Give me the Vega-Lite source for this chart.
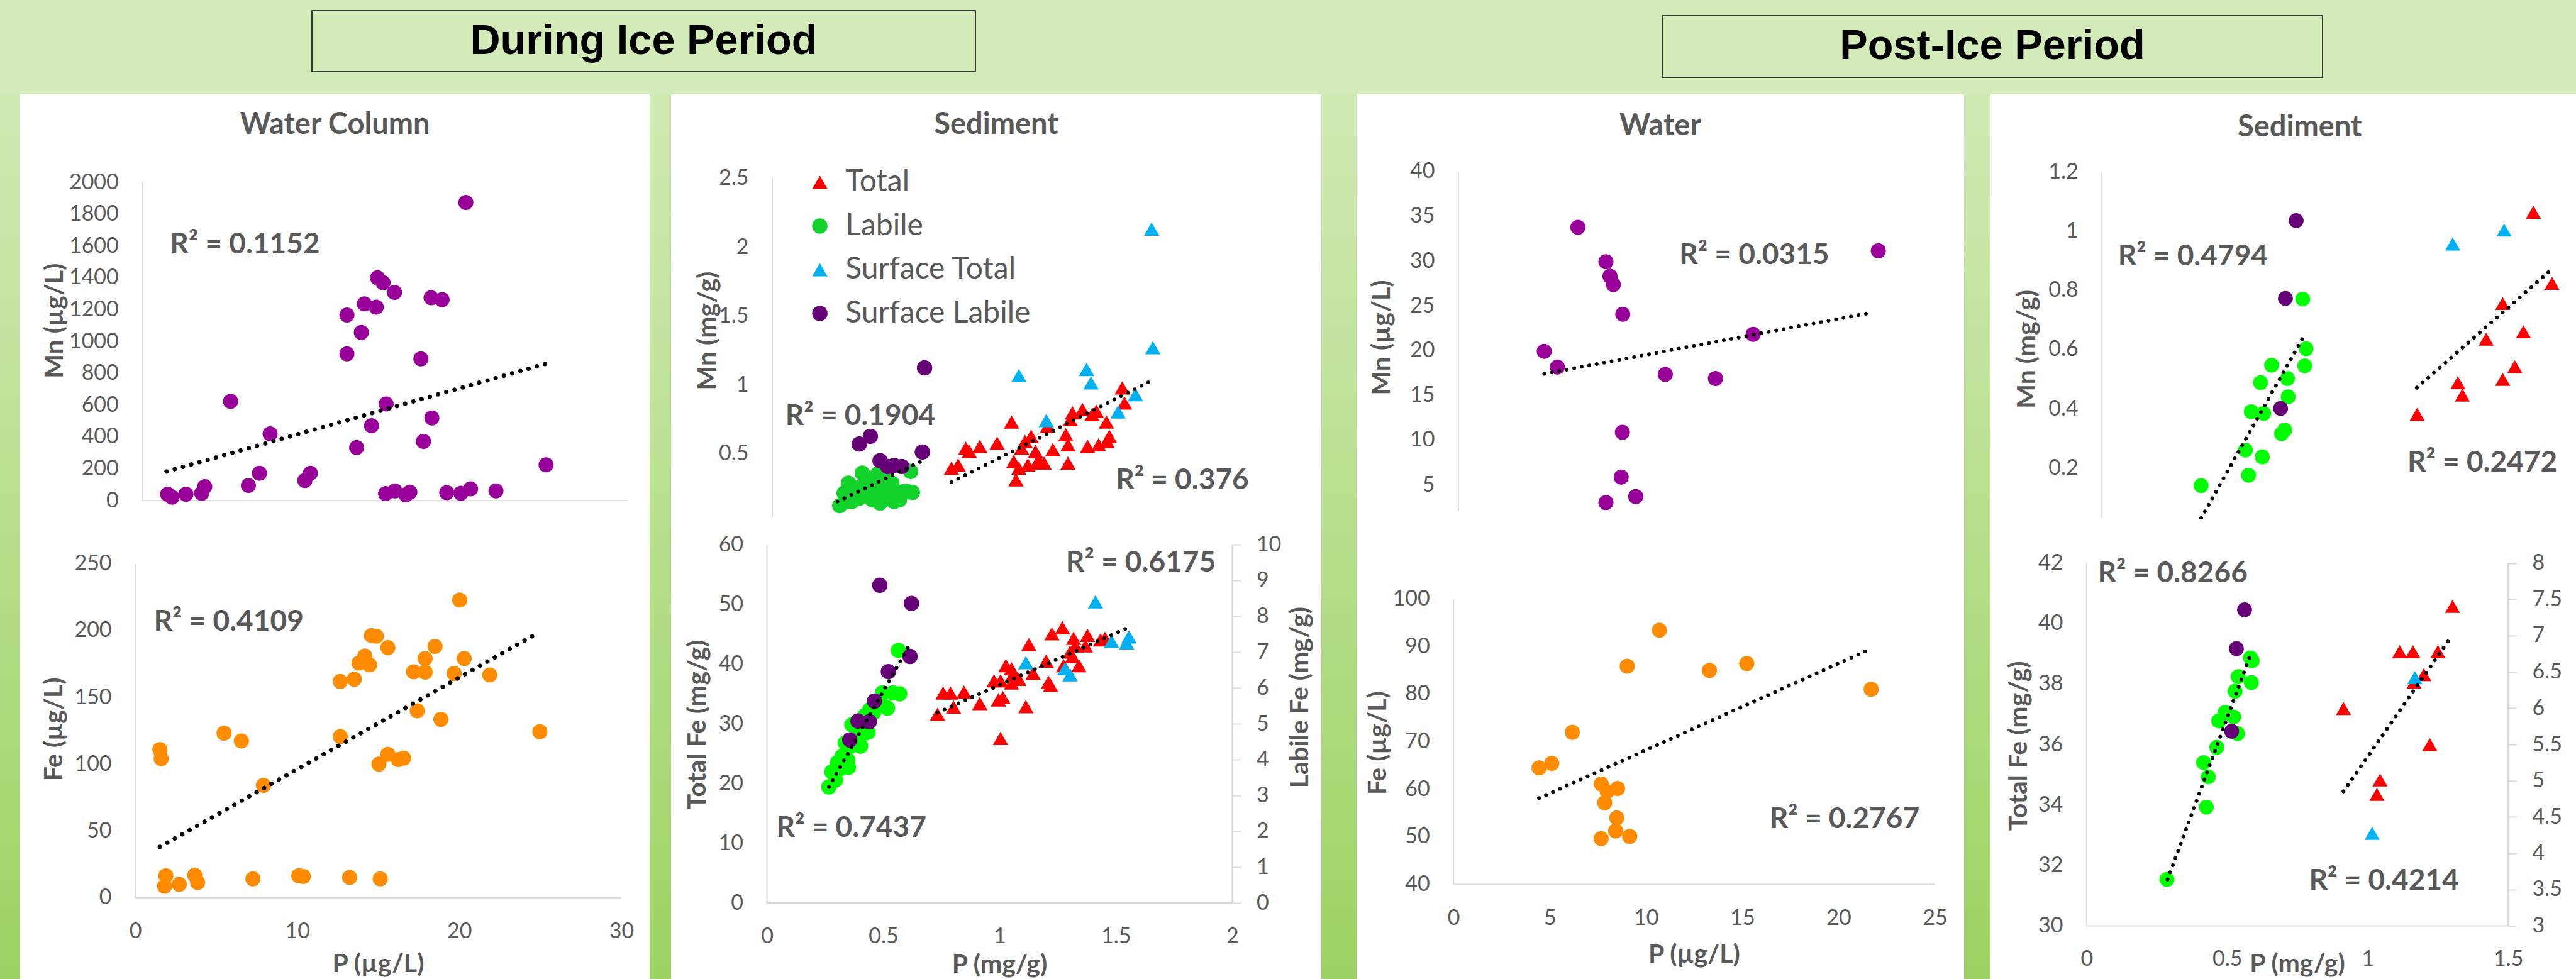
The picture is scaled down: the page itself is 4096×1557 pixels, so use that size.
{
"$schema":"https://vega.github.io/schema/vega-lite/v6.json",
"background":"#d3ebb9",
"padding":0,
"spacing":0,
"config":{"view":{"stroke":null},"concat":{"spacing":0},"axis":{"labelExpr":"toString(datum.value)","grid":false,"domain":false,"labelFont":"Lato","labelFontSize":34,"labelColor":"#595959","labelOverlap":false,"labelFlush":false,"title":null}},
"resolve":{"scale":{"color":"independent","shape":"independent"},"legend":{"color":"independent","shape":"independent"}},
"datasets":{
"c1mn":[{"P":1.57,"Mn":40},{"P":1.84,"Mn":21},{"P":2.7,"Mn":40},{"P":3.67,"Mn":46},{"P":3.86,"Mn":88},{"P":5.46,"Mn":624},{"P":6.56,"Mn":95},{"P":7.24,"Mn":172},{"P":7.9,"Mn":420},{"P":10.05,"Mn":126},{"P":10.39,"Mn":172},{"P":12.65,"Mn":922},{"P":12.65,"Mn":1166},{"P":13.25,"Mn":334},{"P":13.54,"Mn":1057},{"P":13.73,"Mn":1237},{"P":14.17,"Mn":471},{"P":14.46,"Mn":1216},{"P":14.54,"Mn":1401},{"P":14.88,"Mn":1370},{"P":15.07,"Mn":607},{"P":15.04,"Mn":44},{"P":15.59,"Mn":1309},{"P":15.62,"Mn":61},{"P":16.3,"Mn":36},{"P":16.54,"Mn":53},{"P":17.22,"Mn":891},{"P":17.38,"Mn":372},{"P":17.85,"Mn":1275},{"P":17.9,"Mn":519},{"P":18.53,"Mn":1263},{"P":18.82,"Mn":50},{"P":19.69,"Mn":46},{"P":20.0,"Mn":1874},{"P":20.29,"Mn":74},{"P":21.86,"Mn":61},{"P":24.96,"Mn":225}],
"c1mnT":[{"P":1.5,"Mn":183},{"P":24.99,"Mn":861}],
"c1fe":[{"P":1.52,"Fe":110.9},{"P":1.6,"Fe":104.1},{"P":1.89,"Fe":16.4},{"P":1.81,"Fe":8.6},{"P":2.72,"Fe":10.0},{"P":3.67,"Fe":16.8},{"P":3.85,"Fe":11.4},{"P":5.48,"Fe":123.2},{"P":6.55,"Fe":117.3},{"P":7.26,"Fe":14.1},{"P":7.91,"Fe":84.1},{"P":10.09,"Fe":16.4},{"P":10.37,"Fe":15.9},{"P":12.65,"Fe":162.0},{"P":12.65,"Fe":120.7},{"P":13.23,"Fe":15.2},{"P":13.52,"Fe":163.6},{"P":13.81,"Fe":175.7},{"P":14.17,"Fe":181.1},{"P":14.46,"Fe":174.3},{"P":14.57,"Fe":196.4},{"P":14.88,"Fe":195.9},{"P":15.04,"Fe":100.0},{"P":15.12,"Fe":14.1},{"P":15.59,"Fe":187.3},{"P":15.59,"Fe":107.3},{"P":16.24,"Fe":103.4},{"P":16.56,"Fe":104.5},{"P":17.18,"Fe":169.1},{"P":17.4,"Fe":140.0},{"P":17.89,"Fe":168.9},{"P":17.89,"Fe":179.1},{"P":18.5,"Fe":188.2},{"P":18.86,"Fe":133.6},{"P":19.68,"Fe":168.0},{"P":20.02,"Fe":223.0},{"P":20.3,"Fe":179.1},{"P":21.88,"Fe":166.8},{"P":24.97,"Fe":124.3}],
"c1feT":[{"P":1.52,"Fe":38.0},{"P":24.94,"Fe":198.9}],
"c2mn":[{"series":"Total","P":0.733,"Mn":0.396},{"series":"Total","P":0.76,"Mn":0.42},{"series":"Total","P":0.792,"Mn":0.542},{"series":"Total","P":0.806,"Mn":0.518},{"series":"Total","P":0.849,"Mn":0.554},{"series":"Total","P":0.92,"Mn":0.578},{"series":"Total","P":0.979,"Mn":0.731},{"series":"Total","P":0.997,"Mn":0.311},{"series":"Total","P":0.988,"Mn":0.445},{"series":"Total","P":1.009,"Mn":0.396},{"series":"Total","P":1.02,"Mn":0.542},{"series":"Total","P":1.034,"Mn":0.591},{"series":"Total","P":1.046,"Mn":0.42},{"series":"Total","P":1.059,"Mn":0.627},{"series":"Total","P":1.077,"Mn":0.518},{"series":"Total","P":1.085,"Mn":0.445},{"series":"Total","P":1.098,"Mn":0.433},{"series":"Total","P":1.112,"Mn":0.433},{"series":"Total","P":1.126,"Mn":0.7},{"series":"Total","P":1.148,"Mn":0.53},{"series":"Total","P":1.201,"Mn":0.639},{"series":"Total","P":1.21,"Mn":0.566},{"series":"Total","P":1.21,"Mn":0.433},{"series":"Total","P":1.219,"Mn":0.748},{"series":"Total","P":1.228,"Mn":0.797},{"series":"Total","P":1.269,"Mn":0.821},{"series":"Total","P":1.29,"Mn":0.554},{"series":"Total","P":1.308,"Mn":0.785},{"series":"Total","P":1.326,"Mn":0.809},{"series":"Total","P":1.335,"Mn":0.566},{"series":"Total","P":1.367,"Mn":0.731},{"series":"Total","P":1.379,"Mn":0.627},{"series":"Total","P":1.37,"Mn":0.59},{"series":"Total","P":1.432,"Mn":0.979},{"series":"Total","P":1.441,"Mn":0.869},
{"series":"Labile","P":0.276,"Mn":0.124},{"series":"Labile","P":0.294,"Mn":0.214},{"series":"Labile","P":0.312,"Mn":0.287},{"series":"Labile","P":0.326,"Mn":0.154},{"series":"Labile","P":0.347,"Mn":0.251},{"series":"Labile","P":0.368,"Mn":0.36},{"series":"Labile","P":0.383,"Mn":0.202},{"series":"Labile","P":0.401,"Mn":0.299},{"series":"Labile","P":0.418,"Mn":0.226},{"series":"Labile","P":0.431,"Mn":0.353},{"series":"Labile","P":0.441,"Mn":0.142},{"series":"Labile","P":0.454,"Mn":0.263},{"series":"Labile","P":0.472,"Mn":0.202},{"series":"Labile","P":0.489,"Mn":0.287},{"series":"Labile","P":0.498,"Mn":0.154},{"series":"Labile","P":0.52,"Mn":0.166},{"series":"Labile","P":0.539,"Mn":0.226},{"series":"Labile","P":0.552,"Mn":0.226},{"series":"Labile","P":0.566,"Mn":0.372},{"series":"Labile","P":0.573,"Mn":0.22},{"series":"Labile","P":0.329,"Mn":0.202},{"series":"Labile","P":0.303,"Mn":0.154},{"series":"Labile","P":0.374,"Mn":0.263},{"series":"Labile","P":0.409,"Mn":0.166},{"series":"Labile","P":0.463,"Mn":0.323},{"series":"Labile","P":0.507,"Mn":0.226},{"series":"Labile","P":0.356,"Mn":0.178},{"series":"Labile","P":0.427,"Mn":0.287},
{"series":"Surface Total","P":1.552,"Mn":2.131},{"series":"Surface Total","P":1.557,"Mn":1.27},{"series":"Surface Total","P":1.009,"Mn":1.068},{"series":"Surface Total","P":1.286,"Mn":1.112},{"series":"Surface Total","P":1.304,"Mn":1.015},{"series":"Surface Total","P":1.121,"Mn":0.741},{"series":"Surface Total","P":1.415,"Mn":0.804},{"series":"Surface Total","P":1.486,"Mn":0.93},
{"series":"Surface Labile","P":0.623,"Mn":1.124},{"series":"Surface Labile","P":0.356,"Mn":0.571},{"series":"Surface Labile","P":0.401,"Mn":0.627},{"series":"Surface Labile","P":0.441,"Mn":0.45},{"series":"Surface Labile","P":0.472,"Mn":0.408},{"series":"Surface Labile","P":0.498,"Mn":0.416},{"series":"Surface Labile","P":0.53,"Mn":0.408},{"series":"Surface Labile","P":0.614,"Mn":0.513}],
"c2mnT":[{"line":"Labile","P":0.267,"Mn":0.154},{"line":"Labile","P":0.623,"Mn":0.457},{"line":"Total","P":0.733,"Mn":0.294},{"line":"Total","P":1.548,"Mn":1.027}],
"c2fe":[{"series":"Total","P":0.733,"Fe":31.63},{"series":"Total","P":0.757,"Fe":35.18},{"series":"Total","P":0.789,"Fe":35.18},{"series":"Total","P":0.802,"Fe":32.8},{"series":"Total","P":0.847,"Fe":35.33},{"series":"Total","P":0.915,"Fe":33.4},{"series":"Total","P":0.976,"Fe":37.21},{"series":"Total","P":1.004,"Fe":37.21},{"series":"Total","P":0.995,"Fe":34.01},{"series":"Total","P":1.014,"Fe":34.42},{"series":"Total","P":1.004,"Fe":27.56},{"series":"Total","P":1.027,"Fe":39.75},{"series":"Total","P":1.06,"Fe":38.49},{"series":"Total","P":1.051,"Fe":36.86},{"series":"Total","P":1.083,"Fe":37.47},{"series":"Total","P":1.113,"Fe":32.89},{"series":"Total","P":1.126,"Fe":43.31},{"series":"Total","P":1.144,"Fe":38.49},{"series":"Total","P":1.2,"Fe":40.52},{"series":"Total","P":1.21,"Fe":36.96},{"series":"Total","P":1.219,"Fe":36.45},{"series":"Total","P":1.225,"Fe":45.09},{"series":"Total","P":1.27,"Fe":46.1},{"series":"Total","P":1.275,"Fe":39.75},{"series":"Total","P":1.303,"Fe":42.05},{"series":"Total","P":1.318,"Fe":44.33},{"series":"Total","P":1.326,"Fe":43.06},{"series":"Total","P":1.341,"Fe":39.75},{"series":"Total","P":1.378,"Fe":44.84},{"series":"Total","P":1.369,"Fe":43.06},{"series":"Total","P":1.434,"Fe":44.07},{"series":"Total","P":1.313,"Fe":41.28},{"series":"Total","P":1.051,"Fe":39.24},{"series":"Total","P":1.453,"Fe":44.33},
{"series":"Surface Total","P":1.113,"Fe":40.26},{"series":"Surface Total","P":1.281,"Fe":39.24},{"series":"Surface Total","P":1.303,"Fe":38.23},{"series":"Surface Total","P":1.412,"Fe":50.43},{"series":"Surface Total","P":1.481,"Fe":43.82},{"series":"Surface Total","P":1.556,"Fe":44.58},{"series":"Surface Total","P":1.546,"Fe":43.57},
{"series":"Labile","P":0.266,"Fe":3.239},{"series":"Labile","P":0.294,"Fe":3.433},{"series":"Labile","P":0.279,"Fe":3.662},{"series":"Labile","P":0.313,"Fe":3.747},{"series":"Labile","P":0.328,"Fe":3.873},{"series":"Labile","P":0.322,"Fe":4.085},{"series":"Labile","P":0.346,"Fe":4.0},{"series":"Labile","P":0.337,"Fe":4.466},{"series":"Labile","P":0.359,"Fe":4.381},{"series":"Labile","P":0.378,"Fe":4.551},{"series":"Labile","P":0.365,"Fe":4.974},{"series":"Labile","P":0.387,"Fe":5.059},{"series":"Labile","P":0.402,"Fe":4.381},{"series":"Labile","P":0.41,"Fe":4.72},{"series":"Labile","P":0.425,"Fe":4.89},{"series":"Labile","P":0.421,"Fe":5.228},{"series":"Labile","P":0.44,"Fe":5.059},{"series":"Labile","P":0.443,"Fe":5.398},{"series":"Labile","P":0.458,"Fe":5.313},{"series":"Labile","P":0.471,"Fe":5.482},{"series":"Labile","P":0.49,"Fe":5.567},{"series":"Labile","P":0.496,"Fe":5.864},{"series":"Labile","P":0.518,"Fe":5.441},{"series":"Labile","P":0.541,"Fe":5.864},{"series":"Labile","P":0.57,"Fe":5.837},{"series":"Labile","P":0.565,"Fe":7.05},{"series":"Labile","P":0.303,"Fe":3.915},{"series":"Labile","P":0.35,"Fe":3.789},{"series":"Labile","P":0.397,"Fe":4.848},{"series":"Labile","P":0.434,"Fe":4.763},
{"series":"Surface Labile","P":0.485,"Fe":8.87},{"series":"Surface Labile","P":0.621,"Fe":8.362},{"series":"Surface Labile","P":0.615,"Fe":6.88},{"series":"Surface Labile","P":0.522,"Fe":6.457},{"series":"Surface Labile","P":0.462,"Fe":5.635},{"series":"Surface Labile","P":0.391,"Fe":5.076},{"series":"Surface Labile","P":0.44,"Fe":5.059},{"series":"Surface Labile","P":0.356,"Fe":4.551}],
"c2feT":[{"line":"Total","P":0.733,"Fe":31.88},{"line":"Total","P":1.543,"Fe":45.95},{"line":"Labile","P":0.266,"Fe":3.239},{"line":"Labile","P":0.612,"Fe":7.193}],
"c3mn":[{"P":6.18,"Mn":33.77},{"P":7.63,"Mn":29.92},{"P":7.84,"Mn":28.31},{"P":8.01,"Mn":27.38},{"P":8.5,"Mn":24.05},{"P":4.44,"Mn":19.91},{"P":5.12,"Mn":18.15},{"P":10.7,"Mn":17.33},{"P":13.29,"Mn":16.88},{"P":15.24,"Mn":21.81},{"P":21.71,"Mn":31.15},{"P":8.48,"Mn":10.87},{"P":8.42,"Mn":5.86},{"P":9.17,"Mn":3.69},{"P":7.63,"Mn":3.02}],
"c3mnT":[{"P":4.44,"Mn":17.4},{"P":21.38,"Mn":24.24}],
"c3fe":[{"P":10.69,"Fe":93.43},{"P":9.02,"Fe":85.84},{"P":13.29,"Fe":84.95},{"P":15.23,"Fe":86.42},{"P":21.69,"Fe":81.0},{"P":6.17,"Fe":71.94},{"P":4.44,"Fe":64.48},{"P":5.1,"Fe":65.44},{"P":7.67,"Fe":61.1},{"P":7.98,"Fe":59.51},{"P":8.52,"Fe":60.15},{"P":7.85,"Fe":57.15},{"P":8.48,"Fe":53.97},{"P":8.42,"Fe":51.22},{"P":7.67,"Fe":49.62},{"P":9.15,"Fe":50.07}],
"c3feT":[{"P":4.44,"Fe":58.11},{"P":21.42,"Fe":89.03}],
"c4mn":[{"series":"Total","P":0.914,"Mn":0.381},{"series":"Total","P":1.032,"Mn":0.488},{"series":"Total","P":1.045,"Mn":0.446},{"series":"Total","P":1.114,"Mn":0.635},{"series":"Total","P":1.162,"Mn":0.756},{"series":"Total","P":1.162,"Mn":0.499},{"series":"Total","P":1.197,"Mn":0.542},{"series":"Total","P":1.222,"Mn":0.66},{"series":"Total","P":1.251,"Mn":1.064},{"series":"Total","P":1.305,"Mn":0.824},
{"series":"Labile","P":0.2875,"Mn":0.14},{"series":"Labile","P":0.425,"Mn":0.175},{"series":"Labile","P":0.465,"Mn":0.237},{"series":"Labile","P":0.416,"Mn":0.26},{"series":"Labile","P":0.433,"Mn":0.39},{"series":"Labile","P":0.469,"Mn":0.384},{"series":"Labile","P":0.46,"Mn":0.488},{"series":"Labile","P":0.492,"Mn":0.547},{"series":"Labile","P":0.521,"Mn":0.316},{"series":"Labile","P":0.53,"Mn":0.328},{"series":"Labile","P":0.538,"Mn":0.502},{"series":"Labile","P":0.54,"Mn":0.44},{"series":"Labile","P":0.588,"Mn":0.545},{"series":"Labile","P":0.592,"Mn":0.603},{"series":"Labile","P":0.582,"Mn":0.771},
{"series":"Surface Total","P":1.017,"Mn":0.957},{"series":"Surface Total","P":1.166,"Mn":1.004},
{"series":"Surface Labile","P":0.563,"Mn":1.036},{"series":"Surface Labile","P":0.532,"Mn":0.773},{"series":"Surface Labile","P":0.518,"Mn":0.401}],
"c4mnT":[{"line":"Labile","P":0.2875,"Mn":0.03},{"line":"Labile","P":0.59,"Mn":0.655},{"line":"Total","P":0.913,"Mn":0.471},{"line":"Total","P":1.305,"Mn":0.872}],
"c4fe":[{"series":"Total","P":0.914,"Fe":37.19},{"series":"Total","P":1.033,"Fe":34.35},{"series":"Total","P":1.044,"Fe":34.83},{"series":"Total","P":1.114,"Fe":39.07},{"series":"Total","P":1.161,"Fe":39.07},{"series":"Total","P":1.165,"Fe":38.06},{"series":"Total","P":1.2,"Fe":38.31},{"series":"Total","P":1.221,"Fe":36.0},{"series":"Total","P":1.25,"Fe":39.07},{"series":"Total","P":1.302,"Fe":40.57},
{"series":"Surface Total","P":1.016,"Fe":33.06},{"series":"Surface Total","P":1.168,"Fe":38.21},
{"series":"Labile","P":0.286,"Fe":3.64},{"series":"Labile","P":0.426,"Fe":4.636},{"series":"Labile","P":0.433,"Fe":5.054},{"series":"Labile","P":0.416,"Fe":5.251},{"series":"Labile","P":0.463,"Fe":5.461},{"series":"Labile","P":0.47,"Fe":5.824},{"series":"Labile","P":0.493,"Fe":5.942},{"series":"Labile","P":0.523,"Fe":5.879},{"series":"Labile","P":0.537,"Fe":5.649},{"series":"Labile","P":0.528,"Fe":6.234},{"series":"Labile","P":0.539,"Fe":6.435},{"series":"Labile","P":0.586,"Fe":6.352},{"series":"Labile","P":0.589,"Fe":6.653},{"series":"Labile","P":0.583,"Fe":6.694},
{"series":"Surface Labile","P":0.562,"Fe":7.356},{"series":"Surface Labile","P":0.533,"Fe":6.82},{"series":"Surface Labile","P":0.516,"Fe":5.682}],
"c4feT":[{"line":"Labile","P":0.288,"Fe":3.64},{"line":"Labile","P":0.583,"Fe":6.736},{"line":"Total","P":0.914,"Fe":34.45},{"line":"Total","P":1.298,"Fe":39.57}]
},
"vconcat":[
{"hconcat":[
 {"width":495,"height":150,"data":{"values":[]},"mark":"point","view":{"stroke":null}},
 {"vconcat":[
   {"width":1055,"height":17,"data":{"values":[]},"mark":"point","view":{"stroke":null}},
   {"width":1055,"height":97,"data":{"values":[{"t":"During Ice Period"}]},"mark":{"type":"text","font":"Liberation Sans","fontWeight":"bold","fontSize":66.7,"color":"black","align":"center","baseline":"middle"},"encoding":{"text":{"field":"t"}},"view":{"stroke":"black","strokeWidth":1.5}},
   {"width":1055,"height":36,"data":{"values":[]},"mark":"point","view":{"stroke":null}}
 ],"spacing":0,"bounds":"flush"},
 {"width":1090,"height":150,"data":{"values":[]},"mark":"point","view":{"stroke":null}},
 {"vconcat":[
   {"width":1050,"height":25,"data":{"values":[]},"mark":"point","view":{"stroke":null}},
   {"width":1050,"height":98,"data":{"values":[{"t":"Post-Ice Period"}]},"mark":{"type":"text","font":"Liberation Sans","fontWeight":"bold","fontSize":66.7,"color":"black","align":"center","baseline":"middle"},"encoding":{"text":{"field":"t"}},"view":{"stroke":"black","strokeWidth":1.5}},
   {"width":1050,"height":27,"data":{"values":[]},"mark":"point","view":{"stroke":null}}
 ],"spacing":0,"bounds":"flush"},
 {"width":406,"height":150,"data":{"values":[]},"mark":"point","view":{"stroke":null}}
],"spacing":0},
{"hconcat":[
 {"width":32,"height":1407,"data":{"values":[]},"mark":"point","view":{"stroke":null,"fill":{"gradient":"linear","x1":0,"y1":0,"x2":0,"y2":1,"stops":[{"offset":0,"color":"#d0eab4"},{"offset":1,"color":"#9dd363"}]}}},
 {"vconcat":[
  {"width":1001,"height":657,"view":{"fill":"white","stroke":null},
   "title":{"text":"Water Column","orient":"top","anchor":"middle","frame":"group","offset":-72.7,"font":"Lato","fontSize":47,"fontWeight":"bold","color":"#595959"},
   "layer":[
    {"data":{"values":[{}]},"mark":{"type":"rule","color":"#d9d9d9","strokeWidth":2},"encoding":{"x":{"datum":0,"type":"quantitative","axis":null},"y":{"datum":0,"type":"quantitative"},"y2":{"datum":2000}}},
    {"data":{"values":[{}]},"mark":{"type":"rule","color":"#d9d9d9","strokeWidth":2},"encoding":{"x":{"datum":0,"type":"quantitative","axis":null},"x2":{"datum":30},"y":{"datum":0,"type":"quantitative"}}},
    {"data":{"name":"c1mn"},"mark":{"type":"point","filled":true,"shape":"circle","color":"#990099","size":576,"opacity":1,"strokeWidth":0},
     "encoding":{"x":{"field":"P","type":"quantitative","scale":{"domain":[-7.549,31.361],"nice":false,"zero":false},"axis":null},
      "y":{"field":"Mn","type":"quantitative","scale":{"domain":[-42.8,2553.5],"nice":false,"zero":false},
       "axis":{"orient":"left","offset":-194.3,"values":[0,200,400,600,800,1000,1200,1400,1600,1800,2000],"ticks":false,"labelPadding":38,"title":null}}}},
    {"data":{"name":"c1mnT"},"mark":{"type":"line","color":"black","strokeWidth":7,"strokeDash":[0.1,13.5],"strokeCap":"round"},"encoding":{"x":{"field":"P","type":"quantitative","axis":null},"y":{"field":"Mn","type":"quantitative"}}},
    {"data":{"values":[{}]},"mark":{"type":"text","text":"R² = 0.1152","font":"Lato","fontWeight":"bold","fontSize":46,"color":"#595959","align":"left","baseline":"middle"},"encoding":{"x":{"datum":1.716,"type":"quantitative","axis":null},"y":{"datum":1607.9,"type":"quantitative"}}},
    {"data":{"values":[{}]},"mark":{"type":"text","text":"Mn (µg/L)","font":"Lato","fontWeight":"bold","fontSize":41,"color":"#595959","align":"center","baseline":"middle","angle":270},"encoding":{"x":{"datum":-5.378,"type":"quantitative","axis":null},"y":{"datum":1130.1,"type":"quantitative"}}}
   ]},
  {"width":1001,"height":750,"view":{"fill":"white","stroke":null},
   "layer":[
    {"data":{"values":[{}]},"mark":{"type":"rule","color":"#d9d9d9","strokeWidth":2},"encoding":{"x":{"datum":0,"type":"quantitative"},"y":{"datum":0,"type":"quantitative"},"y2":{"datum":250}}},
    {"data":{"values":[{}]},"mark":{"type":"rule","color":"#d9d9d9","strokeWidth":2},"encoding":{"x":{"datum":0,"type":"quantitative"},"x2":{"datum":30},"y":{"datum":0,"type":"quantitative"}}},
    {"data":{"name":"c1fe"},"mark":{"type":"point","filled":true,"shape":"circle","color":"#ff8c00","size":576,"opacity":1,"strokeWidth":0},
     "encoding":{"x":{"field":"P","type":"quantitative","scale":{"domain":[-7.104,31.747],"nice":false,"zero":false},
       "axis":{"orient":"bottom","offset":-129.7,"values":[0,10,20,30],"ticks":false,"labelPadding":37,"title":null}},
      "y":{"field":"Fe","type":"quantitative","scale":{"domain":[-60.9,292.3],"nice":false,"zero":false},
       "axis":{"orient":"left","offset":-183.1,"values":[0,50,100,150,200,250],"ticks":false,"labelPadding":38,"title":null}}}},
    {"data":{"name":"c1feT"},"mark":{"type":"line","color":"black","strokeWidth":7,"strokeDash":[0.1,13.5],"strokeCap":"round"},"encoding":{"x":{"field":"P","type":"quantitative"},"y":{"field":"Fe","type":"quantitative"}}},
    {"data":{"values":[{}]},"mark":{"type":"text","text":"R² = 0.4109","font":"Lato","fontWeight":"bold","fontSize":46,"color":"#595959","align":"left","baseline":"middle"},"encoding":{"x":{"datum":1.145,"type":"quantitative"},"y":{"datum":206.8,"type":"quantitative"}}},
    {"data":{"values":[{}]},"mark":{"type":"text","text":"Fe (µg/L)","font":"Lato","fontWeight":"bold","fontSize":41,"color":"#595959","align":"center","baseline":"middle","angle":270},"encoding":{"x":{"datum":-4.969,"type":"quantitative"},"y":{"datum":126.1,"type":"quantitative"}}},
    {"data":{"values":[{}]},"mark":{"type":"text","text":"P (µg/L)","font":"Lato","fontWeight":"bold","fontSize":41,"color":"#595959","align":"center","baseline":"middle"},"encoding":{"x":{"datum":15,"type":"quantitative"},"y":{"datum":-50.3,"type":"quantitative"}}}
   ]}
 ],"spacing":0,"bounds":"flush","resolve":{"scale":{"color":"independent","shape":"independent"},"legend":{"color":"independent","shape":"independent"}}},
 {"width":34,"height":1407,"data":{"values":[]},"mark":"point","view":{"stroke":null,"fill":{"gradient":"linear","x1":0,"y1":0,"x2":0,"y2":1,"stops":[{"offset":0,"color":"#d0eab4"},{"offset":1,"color":"#9dd363"}]}}},
 {"vconcat":[
  {"width":1034,"height":673,"view":{"fill":"white","stroke":null},
   "title":{"text":"Sediment","orient":"top","anchor":"middle","frame":"group","offset":-72.7,"font":"Lato","fontSize":47,"fontWeight":"bold","color":"#595959"},
   "layer":[
    {"data":{"values":[{}]},"mark":{"type":"rule","color":"#d9d9d9","strokeWidth":2},"encoding":{"x":{"datum":0,"type":"quantitative","axis":null},"y":{"datum":0.04,"type":"quantitative"},"y2":{"datum":2.5}}},
    {"data":{"name":"c2mn"},"mark":{"type":"point","filled":true,"size":600,"opacity":1,"strokeWidth":0},
     "encoding":{"x":{"field":"P","type":"quantitative","scale":{"domain":[-0.4144,2.2466],"nice":false,"zero":false},"axis":null},
      "y":{"field":"Mn","type":"quantitative","scale":{"domain":[0.038,3.109],"nice":false,"zero":false},
       "axis":{"orient":"left","offset":-161.0,"values":[0,0.5,1,1.5,2,2.5],"ticks":false,"labelPadding":38,"title":null}},
      "color":{"field":"series","type":"nominal","scale":{"domain":["Total","Labile","Surface Total","Surface Labile"],"range":["#ff0000","#14d22c","#00b0f0","#660077"]},
       "legend":{"orient":"none","legendX":212.6,"legendY":116,"title":null,"padding":0,"labelFont":"Lato","labelFontSize":48,"labelColor":"#595959","symbolSize":600,"rowPadding":21.5,"labelOffset":16.7,"symbolStrokeWidth":0,"labelLimit":0}},
      "shape":{"field":"series","type":"nominal","scale":{"domain":["Total","Labile","Surface Total","Surface Labile"],"range":["triangle-up","circle","triangle-up","circle"]},
       "legend":{"orient":"none","legendX":212.6,"legendY":116,"title":null,"padding":0,"labelFont":"Lato","labelFontSize":48,"labelColor":"#595959","symbolSize":600,"rowPadding":21.5,"labelOffset":16.7,"symbolStrokeWidth":0,"labelLimit":0}}}},
    {"data":{"name":"c2mnT"},"mark":{"type":"line","color":"black","strokeWidth":6,"strokeDash":[0.1,12],"strokeCap":"round"},"encoding":{"x":{"field":"P","type":"quantitative","axis":null},"y":{"field":"Mn","type":"quantitative"},"detail":{"field":"line"}}},
    {"data":{"values":[{}]},"mark":{"type":"text","text":"R² = 0.1904","font":"Lato","fontWeight":"bold","fontSize":46,"color":"#595959","align":"left","baseline":"middle"},"encoding":{"x":{"datum":0.0534,"type":"quantitative","axis":null},"y":{"datum":0.773,"type":"quantitative"}}},
    {"data":{"values":[{}]},"mark":{"type":"text","text":"R² = 0.376","font":"Lato","fontWeight":"bold","fontSize":46,"color":"#595959","align":"left","baseline":"middle"},"encoding":{"x":{"datum":1.4054,"type":"quantitative","axis":null},"y":{"datum":0.3065,"type":"quantitative"}}},
    {"data":{"values":[{}]},"mark":{"type":"text","text":"Mn (mg/g)","font":"Lato","fontWeight":"bold","fontSize":41,"color":"#595959","align":"center","baseline":"middle","angle":270},"encoding":{"x":{"datum":-0.262,"type":"quantitative","axis":null},"y":{"datum":1.393,"type":"quantitative"}}}
   ]},
  {"width":1034,"height":734,"view":{"fill":"white","stroke":null},
   "resolve":{"scale":{"y":"independent"},"axis":{"y":"independent"}},
   "layer":[
    {"layer":[
     {"data":{"values":[{}]},"mark":{"type":"rule","color":"#d9d9d9","strokeWidth":2},"encoding":{"x":{"datum":0,"type":"quantitative"},"y":{"datum":0,"type":"quantitative"},"y2":{"datum":60}}},
     {"data":{"values":[{}]},"mark":{"type":"rule","color":"#d9d9d9","strokeWidth":2},"encoding":{"x":{"datum":0,"type":"quantitative"},"x2":{"datum":2},"y":{"datum":0,"type":"quantitative"}}},
     {"data":{"name":"c2fe"},"transform":[{"filter":{"field":"series","equal":"Total"}}],"mark":{"type":"point","filled":true,"shape":"triangle-up","color":"#ff0000","size":600,"opacity":1,"strokeWidth":0},
      "encoding":{"x":{"field":"P","type":"quantitative","scale":{"domain":[-0.4126,2.3833],"nice":false,"zero":false},
        "axis":{"orient":"bottom","offset":-121.2,"values":[0,0.5,1,1.5,2],"ticks":false,"labelPadding":37,"title":null}},
       "y":{"field":"Fe","type":"quantitative","scale":{"domain":[-12.738,64.568],"nice":false,"zero":false},
        "axis":{"orient":"left","offset":-152.6,"values":[0,10,20,30,40,50,60],"ticks":false,"labelPadding":38,"title":null}}}},
     {"data":{"name":"c2fe"},"transform":[{"filter":{"field":"series","equal":"Surface Total"}}],"mark":{"type":"point","filled":true,"shape":"triangle-up","color":"#00b0f0","size":600,"opacity":1,"strokeWidth":0},
      "encoding":{"x":{"field":"P","type":"quantitative"},"y":{"field":"Fe","type":"quantitative"}}},
     {"data":{"name":"c2feT"},"transform":[{"filter":{"field":"line","equal":"Total"}}],"mark":{"type":"line","color":"black","strokeWidth":6,"strokeDash":[0.1,12],"strokeCap":"round"},"encoding":{"x":{"field":"P","type":"quantitative"},"y":{"field":"Fe","type":"quantitative"}}},
     {"data":{"values":[{}]},"mark":{"type":"text","text":"R² = 0.6175","font":"Lato","fontWeight":"bold","fontSize":46,"color":"#595959","align":"left","baseline":"middle"},"encoding":{"x":{"datum":1.285,"type":"quantitative"},"y":{"datum":57.01,"type":"quantitative"}}},
     {"data":{"values":[{}]},"mark":{"type":"text","text":"R² = 0.7437","font":"Lato","fontWeight":"bold","fontSize":46,"color":"#595959","align":"left","baseline":"middle"},"encoding":{"x":{"datum":0.0406,"type":"quantitative"},"y":{"datum":12.56,"type":"quantitative"}}},
     {"data":{"values":[{}]},"mark":{"type":"text","text":"Total Fe (mg/g)","font":"Lato","fontWeight":"bold","fontSize":41,"color":"#595959","align":"center","baseline":"middle","angle":270},"encoding":{"x":{"datum":-0.2954,"type":"quantitative"},"y":{"datum":29.87,"type":"quantitative"}}},
     {"data":{"values":[{}]},"mark":{"type":"text","text":"Labile Fe (mg/g)","font":"Lato","fontWeight":"bold","fontSize":41,"color":"#595959","align":"center","baseline":"middle","angle":270},"encoding":{"x":{"datum":2.293,"type":"quantitative"},"y":{"datum":34.44,"type":"quantitative"}}},
     {"data":{"values":[{}]},"mark":{"type":"text","text":"P (mg/g)","font":"Lato","fontWeight":"bold","fontSize":41,"color":"#595959","align":"center","baseline":"middle"},"encoding":{"x":{"datum":1,"type":"quantitative"},"y":{"datum":-10.37,"type":"quantitative"}}}
    ]},
    {"layer":[
     {"data":{"values":[{}]},"mark":{"type":"rule","color":"#d9d9d9","strokeWidth":2},"encoding":{"x":{"datum":2,"type":"quantitative"},"y":{"datum":0,"type":"quantitative"},"y2":{"datum":10}}},
     {"data":{"name":"c2fe"},"transform":[{"filter":{"field":"series","equal":"Labile"}}],"mark":{"type":"point","filled":true,"shape":"circle","color":"#00ff00","size":600,"opacity":1,"strokeWidth":0},
      "encoding":{"x":{"field":"P","type":"quantitative"},
       "y":{"field":"Fe","type":"quantitative","scale":{"domain":[-2.123,10.761],"nice":false,"zero":false},
        "axis":{"orient":"right","offset":-141.9,"values":[0,1,2,3,4,5,6,7,8,9,10],"ticks":true,"tickSize":13.3,"tickColor":"#d9d9d9","tickWidth":2,"labelPadding":25,"title":null}}}},
     {"data":{"name":"c2fe"},"transform":[{"filter":{"field":"series","equal":"Surface Labile"}}],"mark":{"type":"point","filled":true,"shape":"circle","color":"#660077","size":600,"opacity":1,"strokeWidth":0},
      "encoding":{"x":{"field":"P","type":"quantitative"},"y":{"field":"Fe","type":"quantitative"}}},
     {"data":{"name":"c2feT"},"transform":[{"filter":{"field":"line","equal":"Labile"}}],"mark":{"type":"line","color":"black","strokeWidth":6,"strokeDash":[0.1,12],"strokeCap":"round"},"encoding":{"x":{"field":"P","type":"quantitative"},"y":{"field":"Fe","type":"quantitative"}}}
    ]}
   ]}
 ],"spacing":0,"bounds":"flush","resolve":{"scale":{"color":"independent","shape":"independent"},"legend":{"color":"independent","shape":"independent"}}},
 {"width":56,"height":1407,"data":{"values":[]},"mark":"point","view":{"stroke":null,"fill":{"gradient":"linear","x1":0,"y1":0,"x2":0,"y2":1,"stops":[{"offset":0,"color":"#d0eab4"},{"offset":1,"color":"#9dd363"}]}}},
 {"vconcat":[
  {"width":966,"height":663,"view":{"fill":"white","stroke":null},
   "title":{"text":"Water","orient":"top","anchor":"middle","frame":"group","offset":-75.2,"font":"Lato","fontSize":47,"fontWeight":"bold","color":"#595959"},
   "layer":[
    {"data":{"values":[{}]},"mark":{"type":"rule","color":"#d9d9d9","strokeWidth":2},"encoding":{"x":{"datum":0,"type":"quantitative","axis":null},"y":{"datum":2.1,"type":"quantitative"},"y2":{"datum":40}}},
    {"data":{"name":"c3mn"},"mark":{"type":"point","filled":true,"shape":"circle","color":"#990099","size":576,"opacity":1,"strokeWidth":0},
     "encoding":{"x":{"field":"P","type":"quantitative","scale":{"domain":[-5.263,26.146],"nice":false,"zero":false},"axis":null},
      "y":{"field":"Mn","type":"quantitative","scale":{"domain":[2.056,48.62],"nice":false,"zero":false},
       "axis":{"orient":"left","offset":-161.9,"values":[5,10,15,20,25,30,35,40],"ticks":false,"labelPadding":38,"title":null}}}},
    {"data":{"name":"c3mnT"},"mark":{"type":"line","color":"black","strokeWidth":6,"strokeDash":[0.1,12],"strokeCap":"round"},"encoding":{"x":{"field":"P","type":"quantitative","axis":null},"y":{"field":"Mn","type":"quantitative"}}},
    {"data":{"values":[{}]},"mark":{"type":"text","text":"R² = 0.0315","font":"Lato","fontWeight":"bold","fontSize":46,"color":"#595959","align":"left","baseline":"middle"},"encoding":{"x":{"datum":11.425,"type":"quantitative","axis":null},"y":{"datum":30.66,"type":"quantitative"}}},
    {"data":{"values":[{}]},"mark":{"type":"text","text":"Mn (µg/L)","font":"Lato","fontWeight":"bold","fontSize":41,"color":"#595959","align":"center","baseline":"middle","angle":270},"encoding":{"x":{"datum":-3.922,"type":"quantitative","axis":null},"y":{"datum":21.44,"type":"quantitative"}}}
   ]},
  {"width":966,"height":744,"view":{"fill":"white","stroke":null},
   "layer":[
    {"data":{"values":[{}]},"mark":{"type":"rule","color":"#d9d9d9","strokeWidth":2},"encoding":{"x":{"datum":0,"type":"quantitative"},"y":{"datum":40,"type":"quantitative"},"y2":{"datum":100}}},
    {"data":{"values":[{}]},"mark":{"type":"rule","color":"#d9d9d9","strokeWidth":2},"encoding":{"x":{"datum":0,"type":"quantitative"},"x2":{"datum":25},"y":{"datum":40,"type":"quantitative"}}},
    {"data":{"name":"c3fe"},"mark":{"type":"point","filled":true,"shape":"circle","color":"#ff8c00","size":576,"opacity":1,"strokeWidth":0},
     "encoding":{"x":{"field":"P","type":"quantitative","scale":{"domain":[-5.037,26.517],"nice":false,"zero":false},
       "axis":{"orient":"bottom","offset":-150.8,"values":[0,5,10,15,20,25],"ticks":false,"labelPadding":37,"title":null}},
      "y":{"field":"Fe","type":"quantitative","scale":{"domain":[20.1,118.43],"nice":false,"zero":false},
       "axis":{"orient":"left","offset":-154.2,"values":[40,50,60,70,80,90,100],"ticks":false,"labelPadding":38,"title":null}}}},
    {"data":{"name":"c3feT"},"mark":{"type":"line","color":"black","strokeWidth":6,"strokeDash":[0.1,12],"strokeCap":"round"},"encoding":{"x":{"field":"P","type":"quantitative"},"y":{"field":"Fe","type":"quantitative"}}},
    {"data":{"values":[{}]},"mark":{"type":"text","text":"R² = 0.2767","font":"Lato","fontWeight":"bold","fontSize":46,"color":"#595959","align":"left","baseline":"middle"},"encoding":{"x":{"datum":16.417,"type":"quantitative"},"y":{"datum":53.65,"type":"quantitative"}}},
    {"data":{"values":[{}]},"mark":{"type":"text","text":"Fe (µg/L)","font":"Lato","fontWeight":"bold","fontSize":41,"color":"#595959","align":"center","baseline":"middle","angle":270},"encoding":{"x":{"datum":-3.896,"type":"quantitative"},"y":{"datum":69.71,"type":"quantitative"}}},
    {"data":{"values":[{}]},"mark":{"type":"text","text":"P (µg/L)","font":"Lato","fontWeight":"bold","fontSize":41,"color":"#595959","align":"center","baseline":"middle"},"encoding":{"x":{"datum":12.5,"type":"quantitative"},"y":{"datum":25.08,"type":"quantitative"}}}
   ]}
 ],"spacing":0,"bounds":"flush","resolve":{"scale":{"color":"independent","shape":"independent"},"legend":{"color":"independent","shape":"independent"}}},
 {"width":42,"height":1407,"data":{"values":[]},"mark":"point","view":{"stroke":null,"fill":{"gradient":"linear","x1":0,"y1":0,"x2":0,"y2":1,"stops":[{"offset":0,"color":"#d0eab4"},{"offset":1,"color":"#9dd363"}]}}},
 {"vconcat":[
  {"width":931,"height":675,"view":{"fill":"white","stroke":null},
   "title":{"text":"Sediment","orient":"top","anchor":"middle","frame":"group","offset":-77.1,"dx":26.3,"font":"Lato","fontSize":47,"fontWeight":"bold","color":"#595959"},
   "layer":[
    {"data":{"values":[{}]},"mark":{"type":"rule","color":"#d9d9d9","strokeWidth":2},"encoding":{"x":{"datum":0,"type":"quantitative","axis":null},"y":{"datum":0.03,"type":"quantitative"},"y2":{"datum":1.2}}},
    {"data":{"name":"c4mn"},"transform":[{"filter":{"field":"series","equal":"Total"}}],"mark":{"type":"point","filled":true,"shape":"triangle-up","color":"#ff0000","size":576,"opacity":1,"strokeWidth":0},
     "encoding":{"x":{"field":"P","type":"quantitative","scale":{"domain":[-0.3231,1.3745],"nice":false,"zero":false},"axis":null},
      "y":{"field":"Mn","type":"quantitative","scale":{"domain":[0.028,1.463],"nice":false,"zero":false},
       "axis":{"orient":"left","offset":-177.2,"values":[0,0.2,0.4,0.6,0.8,1,1.2],"ticks":false,"labelPadding":38,"title":null}}}},
    {"data":{"name":"c4mn"},"transform":[{"filter":{"field":"series","equal":"Labile"}}],"mark":{"type":"point","filled":true,"shape":"circle","color":"#00ff00","size":560,"opacity":1,"strokeWidth":0},"encoding":{"x":{"field":"P","type":"quantitative","axis":null},"y":{"field":"Mn","type":"quantitative"}}},
    {"data":{"name":"c4mn"},"transform":[{"filter":{"field":"series","equal":"Surface Total"}}],"mark":{"type":"point","filled":true,"shape":"triangle-up","color":"#00b0f0","size":576,"opacity":1,"strokeWidth":0},"encoding":{"x":{"field":"P","type":"quantitative","axis":null},"y":{"field":"Mn","type":"quantitative"}}},
    {"data":{"name":"c4mn"},"transform":[{"filter":{"field":"series","equal":"Surface Labile"}}],"mark":{"type":"point","filled":true,"shape":"circle","color":"#660077","size":560,"opacity":1,"strokeWidth":0},"encoding":{"x":{"field":"P","type":"quantitative","axis":null},"y":{"field":"Mn","type":"quantitative"}}},
    {"data":{"name":"c4mnT"},"mark":{"type":"line","color":"black","strokeWidth":6,"strokeDash":[0.1,12],"strokeCap":"round"},"encoding":{"x":{"field":"P","type":"quantitative","axis":null},"y":{"field":"Mn","type":"quantitative"},"detail":{"field":"line"}}},
    {"data":{"values":[{}]},"mark":{"type":"text","text":"R² = 0.4794","font":"Lato","fontWeight":"bold","fontSize":46,"color":"#595959","align":"left","baseline":"middle"},"encoding":{"x":{"datum":0.0465,"type":"quantitative","axis":null},"y":{"datum":0.914,"type":"quantitative"}}},
    {"data":{"values":[{}]},"mark":{"type":"text","text":"R² = 0.2472","font":"Lato","fontWeight":"bold","fontSize":46,"color":"#595959","align":"left","baseline":"middle"},"encoding":{"x":{"datum":0.8857,"type":"quantitative","axis":null},"y":{"datum":0.217,"type":"quantitative"}}},
    {"data":{"values":[{}]},"mark":{"type":"text","text":"Mn (mg/g)","font":"Lato","fontWeight":"bold","fontSize":41,"color":"#595959","align":"center","baseline":"middle","angle":270},"encoding":{"x":{"datum":-0.2149,"type":"quantitative","axis":null},"y":{"datum":0.6012,"type":"quantitative"}}}
   ]},
  {"width":931,"height":732,"view":{"fill":"white","stroke":null},
   "resolve":{"scale":{"y":"independent"},"axis":{"y":"independent"}},
   "layer":[
    {"layer":[
     {"data":{"values":[{}]},"mark":{"type":"rule","color":"#d9d9d9","strokeWidth":2},"encoding":{"x":{"datum":0,"type":"quantitative"},"y":{"datum":30,"type":"quantitative"},"y2":{"datum":42}}},
     {"data":{"values":[{}]},"mark":{"type":"rule","color":"#d9d9d9","strokeWidth":2},"encoding":{"x":{"datum":0,"type":"quantitative"},"x2":{"datum":1.5},"y":{"datum":30,"type":"quantitative"}}},
     {"data":{"name":"c4fe"},"transform":[{"filter":{"field":"series","equal":"Total"}}],"mark":{"type":"point","filled":true,"shape":"triangle-up","color":"#ff0000","size":576,"opacity":1,"strokeWidth":0},
      "encoding":{"x":{"field":"P","type":"quantitative","scale":{"domain":[-0.3421,1.7414],"nice":false,"zero":false},
        "axis":{"orient":"bottom","offset":-85.2,"values":[0,0.5,1,1.5],"ticks":false,"labelPadding":37,"title":null}},
       "y":{"field":"Fe","type":"quantitative","scale":{"domain":[28.243,43.467],"nice":false,"zero":false},
        "axis":{"orient":"left","offset":-152.9,"values":[30,32,34,36,38,40,42],"ticks":false,"labelPadding":38,"title":null}}}},
     {"data":{"name":"c4fe"},"transform":[{"filter":{"field":"series","equal":"Surface Total"}}],"mark":{"type":"point","filled":true,"shape":"triangle-up","color":"#00b0f0","size":576,"opacity":1,"strokeWidth":0},"encoding":{"x":{"field":"P","type":"quantitative"},"y":{"field":"Fe","type":"quantitative"}}},
     {"data":{"name":"c4feT"},"transform":[{"filter":{"field":"line","equal":"Total"}}],"mark":{"type":"line","color":"black","strokeWidth":6,"strokeDash":[0.1,12],"strokeCap":"round"},"encoding":{"x":{"field":"P","type":"quantitative"},"y":{"field":"Fe","type":"quantitative"}}},
     {"data":{"values":[{}]},"mark":{"type":"text","text":"R² = 0.8266","font":"Lato","fontWeight":"bold","fontSize":46,"color":"#595959","align":"left","baseline":"middle"},"encoding":{"x":{"datum":0.0395,"type":"quantitative"},"y":{"datum":41.658,"type":"quantitative"}}},
     {"data":{"values":[{}]},"mark":{"type":"text","text":"R² = 0.4214","font":"Lato","fontWeight":"bold","fontSize":46,"color":"#595959","align":"left","baseline":"middle"},"encoding":{"x":{"datum":0.7913,"type":"quantitative"},"y":{"datum":31.486,"type":"quantitative"}}},
     {"data":{"values":[{}]},"mark":{"type":"text","text":"Total Fe (mg/g)","font":"Lato","fontWeight":"bold","fontSize":41,"color":"#595959","align":"center","baseline":"middle","angle":270},"encoding":{"x":{"datum":-0.2401,"type":"quantitative"},"y":{"datum":35.954,"type":"quantitative"}}},
     {"data":{"values":[{}]},"mark":{"type":"text","text":"P (mg/g)","font":"Lato","fontWeight":"bold","fontSize":41,"color":"#595959","align":"center","baseline":"middle"},"encoding":{"x":{"datum":0.75,"type":"quantitative"},"y":{"datum":28.713,"type":"quantitative"}}}
    ]},
    {"layer":[
     {"data":{"values":[{}]},"mark":{"type":"rule","color":"#d9d9d9","strokeWidth":2},"encoding":{"x":{"datum":1.5,"type":"quantitative"},"y":{"datum":3,"type":"quantitative"},"y2":{"datum":8}}},
     {"data":{"name":"c4fe"},"transform":[{"filter":{"field":"series","equal":"Labile"}}],"mark":{"type":"point","filled":true,"shape":"circle","color":"#00ff00","size":560,"opacity":1,"strokeWidth":0},
      "encoding":{"x":{"field":"P","type":"quantitative"},
       "y":{"field":"Fe","type":"quantitative","scale":{"domain":[2.268,8.611],"nice":false,"zero":false},
        "axis":{"orient":"right","offset":-107.6,"values":[3,3.5,4,4.5,5,5.5,6,6.5,7,7.5,8],"ticks":true,"tickSize":12.5,"tickColor":"#d9d9d9","tickWidth":2,"labelPadding":25,"title":null}}}},
     {"data":{"name":"c4fe"},"transform":[{"filter":{"field":"series","equal":"Surface Labile"}}],"mark":{"type":"point","filled":true,"shape":"circle","color":"#660077","size":560,"opacity":1,"strokeWidth":0},"encoding":{"x":{"field":"P","type":"quantitative"},"y":{"field":"Fe","type":"quantitative"}}},
     {"data":{"name":"c4feT"},"transform":[{"filter":{"field":"line","equal":"Labile"}}],"mark":{"type":"line","color":"black","strokeWidth":6,"strokeDash":[0.1,12],"strokeCap":"round"},"encoding":{"x":{"field":"P","type":"quantitative"},"y":{"field":"Fe","type":"quantitative"}}}
    ]}
   ]}
 ],"spacing":0,"bounds":"flush","resolve":{"scale":{"color":"independent","shape":"independent"},"legend":{"color":"independent","shape":"independent"}}}
],"spacing":0,"resolve":{"scale":{"color":"independent","shape":"independent"},"legend":{"color":"independent","shape":"independent"}}}
]
}
